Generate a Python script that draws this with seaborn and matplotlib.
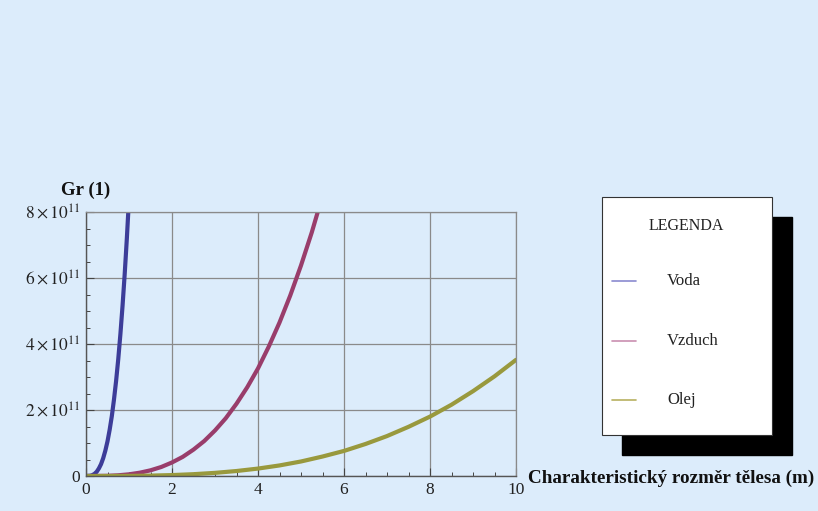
import numpy as np
import pandas as pd
import matplotlib
matplotlib.use("Agg")
import matplotlib.pyplot as plt
from matplotlib.patches import Rectangle
from matplotlib.lines import Line2D
from matplotlib.ticker import MultipleLocator, FixedLocator
import seaborn as sns

# Data (Gr in units of 1e11)
voda_L = [0, 0.1, 0.15, 0.2, 0.25, 0.3, 0.35, 0.4, 0.45, 0.5, 0.55, 0.6, 0.65, 0.7,
          0.75, 0.8, 0.85, 0.9, 0.95, 1.0, 1.05]
voda_Gr = [0, 0.008, 0.028, 0.067, 0.13, 0.23, 0.36, 0.54, 0.77, 1.05, 1.40, 1.81,
           2.31, 2.88, 3.54, 4.30, 5.16, 6.12, 7.20, 8.40, 9.72]
vzduch_L = [0, 0.5, 0.75, 1, 1.25, 1.5, 1.75, 2, 2.25, 2.5, 2.75, 3, 3.25, 3.5, 3.75,
            4, 4.25, 4.5, 4.75, 5, 5.25, 5.5]
vzduch_Gr = [0, 0.0064, 0.0215, 0.051, 0.10, 0.172, 0.273, 0.41, 0.58, 0.80, 1.06,
             1.38, 1.75, 2.19, 2.69, 3.26, 3.92, 4.65, 5.47, 6.38, 7.38, 8.49]
olej_L = [0, 0.5, 1, 1.5, 2, 2.5, 3, 3.5, 4, 4.5, 5, 5.5, 6, 6.5, 7, 7.5, 8, 8.5, 9,
          9.5, 10]
olej_Gr = [0, 0.0004, 0.0035, 0.012, 0.028, 0.055, 0.095, 0.151, 0.225, 0.32, 0.44,
           0.59, 0.76, 0.97, 1.21, 1.49, 1.80, 2.16, 2.57, 3.02, 3.52]

series_names = ["Voda", "Vzduch", "Olej"]
colors = ["#3d3d99", "#993d6b", "#99993d"]
legend_colors = ["#8a8ad0", "#c98fb0", "#b8b060"]
y_ticks = [0, 2, 4, 6, 8]
y_tick_labels = ["0", r"$2\times10^{11}$", r"$4\times10^{11}$", r"$6\times10^{11}$", r"$8\times10^{11}$"]
x_ticks = [0, 2, 4, 6, 8, 10]

rows = []
for name, L, G in [("Voda", voda_L, voda_Gr), ("Vzduch", vzduch_L, vzduch_Gr), ("Olej", olej_L, olej_Gr)]:
    for l, g in zip(L, G):
        rows.append({"L": l, "Gr": g * 1e11, "medium": name})
df = pd.DataFrame(rows)

sns.set_theme(style="white")
plt.rcParams["font.family"] = ["Liberation Serif", "DejaVu Serif"]
plt.rcParams["mathtext.fontset"] = "stix"

bg = "#dcecfb"
fig = plt.figure(figsize=(8.18, 5.11), dpi=100, facecolor=bg)
ax = fig.add_axes([86 / 818, 1 - 476 / 511, 430 / 818, 264 / 511])
ax.set_facecolor(bg)

sns.lineplot(data=df, x="L", y="Gr", hue="medium", hue_order=series_names,
             palette=colors, linewidth=3.0, ax=ax, legend=False, sort=False)
for ln in ax.get_lines():
    ln.set_solid_joinstyle("round")
    ln.set_solid_capstyle("round")

ax.set_xlim(0, 10)
ax.set_ylim(0, 8e11)
ax.xaxis.set_major_locator(FixedLocator(x_ticks))
ax.xaxis.set_minor_locator(MultipleLocator(0.5))
ax.yaxis.set_major_locator(FixedLocator([v * 1e11 for v in y_ticks]))
ax.yaxis.set_minor_locator(MultipleLocator(0.5e11))
ax.set_yticklabels(y_tick_labels)
ax.set_xticklabels([str(v) for v in x_ticks])
ax.grid(True, which="major", color="#8a8a8a", linewidth=0.9)
ax.set_axisbelow(True)
ax.tick_params(which="major", direction="in", length=6, width=0.8, color="#444444",
               labelsize=12.5, pad=4, left=True, bottom=True, labelcolor="#222222")
ax.tick_params(which="minor", direction="in", length=3, width=0.7, color="#444444",
               left=True, bottom=True)
for side in ["top", "right"]:
    ax.spines[side].set_color("#8a8a8a")
    ax.spines[side].set_linewidth(0.9)
for side in ["left", "bottom"]:
    ax.spines[side].set_color("#555555")
    ax.spines[side].set_linewidth(1.0)
ax.set_xlabel("")
ax.set_ylabel("")

fig.text(61 / 818, 1 - 190 / 511, "Gr (1)", fontsize=13.5, fontweight="bold",
         ha="left", va="center", color="#111111")
fig.text(528 / 818, 1 - 478 / 511, "Charakteristický rozměr tělesa (m)", fontsize=13.8,
         fontweight="bold", ha="left", va="center", color="#111111")

# Legend box with shadow
fig.patches.append(Rectangle((622 / 818, 1 - 455 / 511), 170 / 818, 238 / 511,
                             transform=fig.transFigure, facecolor="black", edgecolor="black", zorder=5))
fig.patches.append(Rectangle((602 / 818, 1 - 435 / 511), 170 / 818, 238 / 511,
                             transform=fig.transFigure, facecolor="white", edgecolor="#333333",
                             linewidth=0.8, zorder=6))
fig.text(686 / 818, 1 - 226 / 511, "LEGENDA", fontsize=11.5, ha="center", va="center",
         color="#222222", zorder=7)
for name, c, yy in zip(series_names, legend_colors, [281, 341, 400]):
    fig.lines.append(Line2D([612 / 818, 636 / 818], [1 - yy / 511, 1 - yy / 511],
                            transform=fig.transFigure, color=c, linewidth=1.2, zorder=7))
    fig.text(667 / 818, 1 - yy / 511, name, fontsize=12, ha="left", va="center",
             color="#222222", zorder=7)

fig.savefig("out.png", dpi=100, facecolor=bg)
